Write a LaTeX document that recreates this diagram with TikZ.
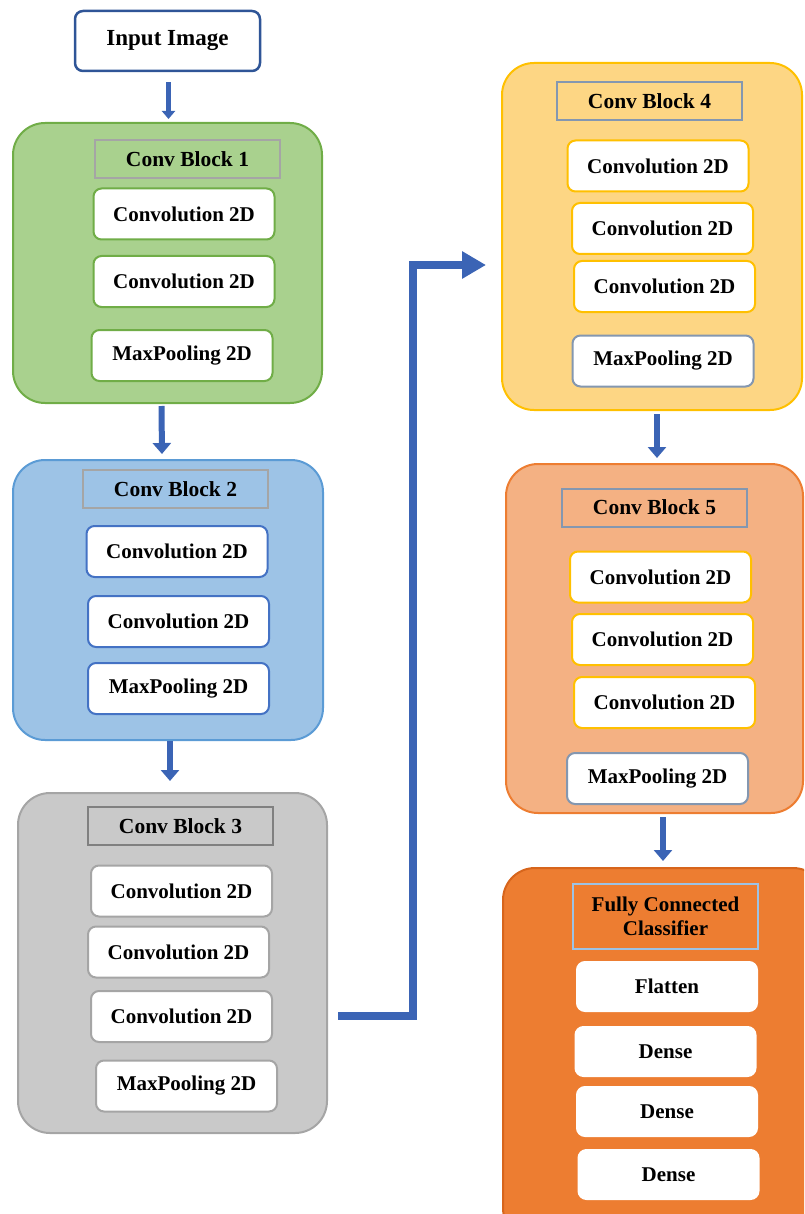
\documentclass[tikz,border=0pt]{standalone}
\usepackage{fontspec}
\setmainfont{Liberation Serif}
\usetikzlibrary{arrows.meta}

\definecolor{grnfill}{HTML}{A9D18E}
\definecolor{grnline}{HTML}{70AD47}
\definecolor{blufill}{HTML}{9DC3E6}
\definecolor{bluline}{HTML}{5B9BD5}
\definecolor{dkblue}{HTML}{2F5597}
\definecolor{arrblue}{HTML}{3B64B5}
\definecolor{boxblue}{HTML}{4472C4}
\definecolor{gryfill}{HTML}{C9C9C9}
\definecolor{gryline}{HTML}{A5A5A5}
\definecolor{ylwfill}{HTML}{FDD684}
\definecolor{ylwline}{HTML}{FFC000}
\definecolor{slmfill}{HTML}{F4B183}
\definecolor{orgfill}{HTML}{ED7D31}
\definecolor{orgline}{HTML}{D7651C}
\definecolor{slate}{HTML}{8497B0}

\tikzset{
  blk/.style={draw,line width=2pt,rounded corners=32pt,inner sep=0pt},
  lyr/.style={draw,fill=white,line width=2pt,rounded corners=8pt,inner sep=0pt,
    minimum width=181pt,minimum height=51pt,
    font=\fontsize{21}{24}\selectfont\bfseries},
  ttl/.style={draw=gryline,line width=2pt,inner sep=0pt,
    minimum width=185pt,minimum height=38pt,
    font=\fontsize{21.5}{24}\selectfont\bfseries},
  flow/.style={draw=arrblue,line width=6pt,-{Triangle[width=18pt,length=11pt]}}
}

\begin{document}
\begin{tikzpicture}[x=1pt,y=-1pt]
  \useasboundingbox (0,0) rectangle (804,1214);
  \clip (0,0) rectangle (804,1214);
  % input
  \node[draw=dkblue,line width=2.5pt,rounded corners=8pt,fill=white,
    minimum width=185pt,minimum height=60pt,
    font=\fontsize{23}{26}\selectfont\bfseries] (inp) at (167.5,41) {Input Image};
  % left column: blocks 1-3
  \node[blk,draw=grnline,fill=grnfill,minimum width=309pt,minimum height=280pt] (blk1) at (167.5,263) {};
  \node[ttl,fill=grnfill] (t1) at (187.5,159) {Conv Block 1};
  \node[lyr,draw=grnline] (c11) at (184,214) {Convolution 2D};
  \node[lyr,draw=grnline] (c12) at (184,281.5) {Convolution 2D};
  \node[lyr,draw=grnline] (m1) at (182,355.5) {MaxPooling 2D};

  \node[blk,draw=bluline,fill=blufill,minimum width=310pt,minimum height=280pt] (blk2) at (168,600) {};
  \node[ttl,fill=blufill] (t2) at (175.5,489) {Conv Block 2};
  \node[lyr,draw=boxblue] (c21) at (177,551.5) {Convolution 2D};
  \node[lyr,draw=boxblue] (c22) at (178.5,621.5) {Convolution 2D};
  \node[lyr,draw=boxblue] (m2) at (178.5,688.5) {MaxPooling 2D};

  \node[blk,draw=gryline,fill=gryfill,minimum width=309pt,minimum height=340pt] (blk3) at (172.5,963) {};
  \node[ttl,fill=gryfill,draw=gray] (t3) at (180.5,826) {Conv Block 3};
  \node[lyr,draw=gryline] (c31) at (181.5,891) {Convolution 2D};
  \node[lyr,draw=gryline] (c32) at (178.5,952) {Convolution 2D};
  \node[lyr,draw=gryline] (c33) at (181.5,1016.5) {Convolution 2D};
  \node[lyr,draw=gryline] (m3) at (186.5,1086) {MaxPooling 2D};

  % right column: blocks 4-5 and classifier
  \node[blk,draw=ylwline,fill=ylwfill,minimum width=300pt,minimum height=347pt] (blk4) at (652,236.5) {};
  \node[ttl,fill=ylwfill,draw=slate] (t4) at (649.5,101) {Conv Block 4};
  \node[lyr,draw=ylwline] (c41) at (658,166) {Convolution 2D};
  \node[lyr,draw=ylwline] (c42) at (662.5,228.5) {Convolution 2D};
  \node[lyr,draw=ylwline] (c43) at (664.5,286.5) {Convolution 2D};
  \node[lyr,draw=slate] (m4) at (663,361) {MaxPooling 2D};

  \node[blk,draw=orgfill,fill=slmfill,minimum width=297pt,minimum height=349pt] (blk5) at (654.5,638.5) {};
  \node[ttl,fill=slmfill,draw=slate] (t5) at (654.5,507.5) {Conv Block 5};
  \node[lyr,draw=ylwline] (c51) at (660.5,577) {Convolution 2D};
  \node[lyr,draw=ylwline] (c52) at (662.5,639.5) {Convolution 2D};
  \node[lyr,draw=ylwline] (c53) at (664.5,702.5) {Convolution 2D};
  \node[lyr,draw=slate] (m5) at (657.5,778.5) {MaxPooling 2D};

  \node[blk,draw=orgline,fill=orgfill,minimum width=322pt,minimum height=372pt] (fc) at (664,1054) {};
  \node[ttl,fill=orgfill,draw=blufill,minimum height=65pt,align=center,
    font=\fontsize{21}{24}\selectfont\bfseries] (tf) at (665.5,916.5) {Fully Connected\\Classifier};
  \node[lyr,draw=white,minimum width=180pt,minimum height=49pt] (fl) at (667,986.5) {Flatten};
  \node[lyr,draw=white,minimum width=180pt,minimum height=49pt] (d1) at (665.5,1051.5) {Dense};
  \node[lyr,draw=white,minimum width=180pt,minimum height=49pt] (d2) at (667,1111.5) {Dense};
  \node[lyr,draw=white,minimum width=180pt,minimum height=49pt] (d3) at (668.5,1174.5) {Dense};

  % arrows
  \draw[flow,line width=4.5pt,-{Triangle[width=13pt,length=8pt]},shorten <=10pt,shorten >=3pt]
    ([xshift=1pt]inp.south) -- ([xshift=1pt]blk1.north);
  \draw[flow,shorten <=2pt,shorten >=5pt] ([xshift=-6pt]blk1.south) -- ([xshift=-6pt]blk2.north);
  \draw[flow,shorten >=11pt] ([xshift=2pt]blk2.south) -- ([xshift=-2.5pt]blk3.north);
  \draw[flow,shorten <=3pt,shorten >=5pt] ([xshift=5pt]blk4.south) -- ([xshift=2.5pt]blk5.north);
  \draw[flow,shorten <=3pt,shorten >=6pt] ([xshift=8.5pt]blk5.south) -- ([xshift=-1pt]fc.north);
  \draw[flow,line width=8pt,-{Triangle[width=26pt,length=24pt]}]
    ([shift={(10,53)}]blk3.east) -- ++(75,0) |- ([shift={(-15,28.5)}]blk4.west);
\end{tikzpicture}
\end{document}
